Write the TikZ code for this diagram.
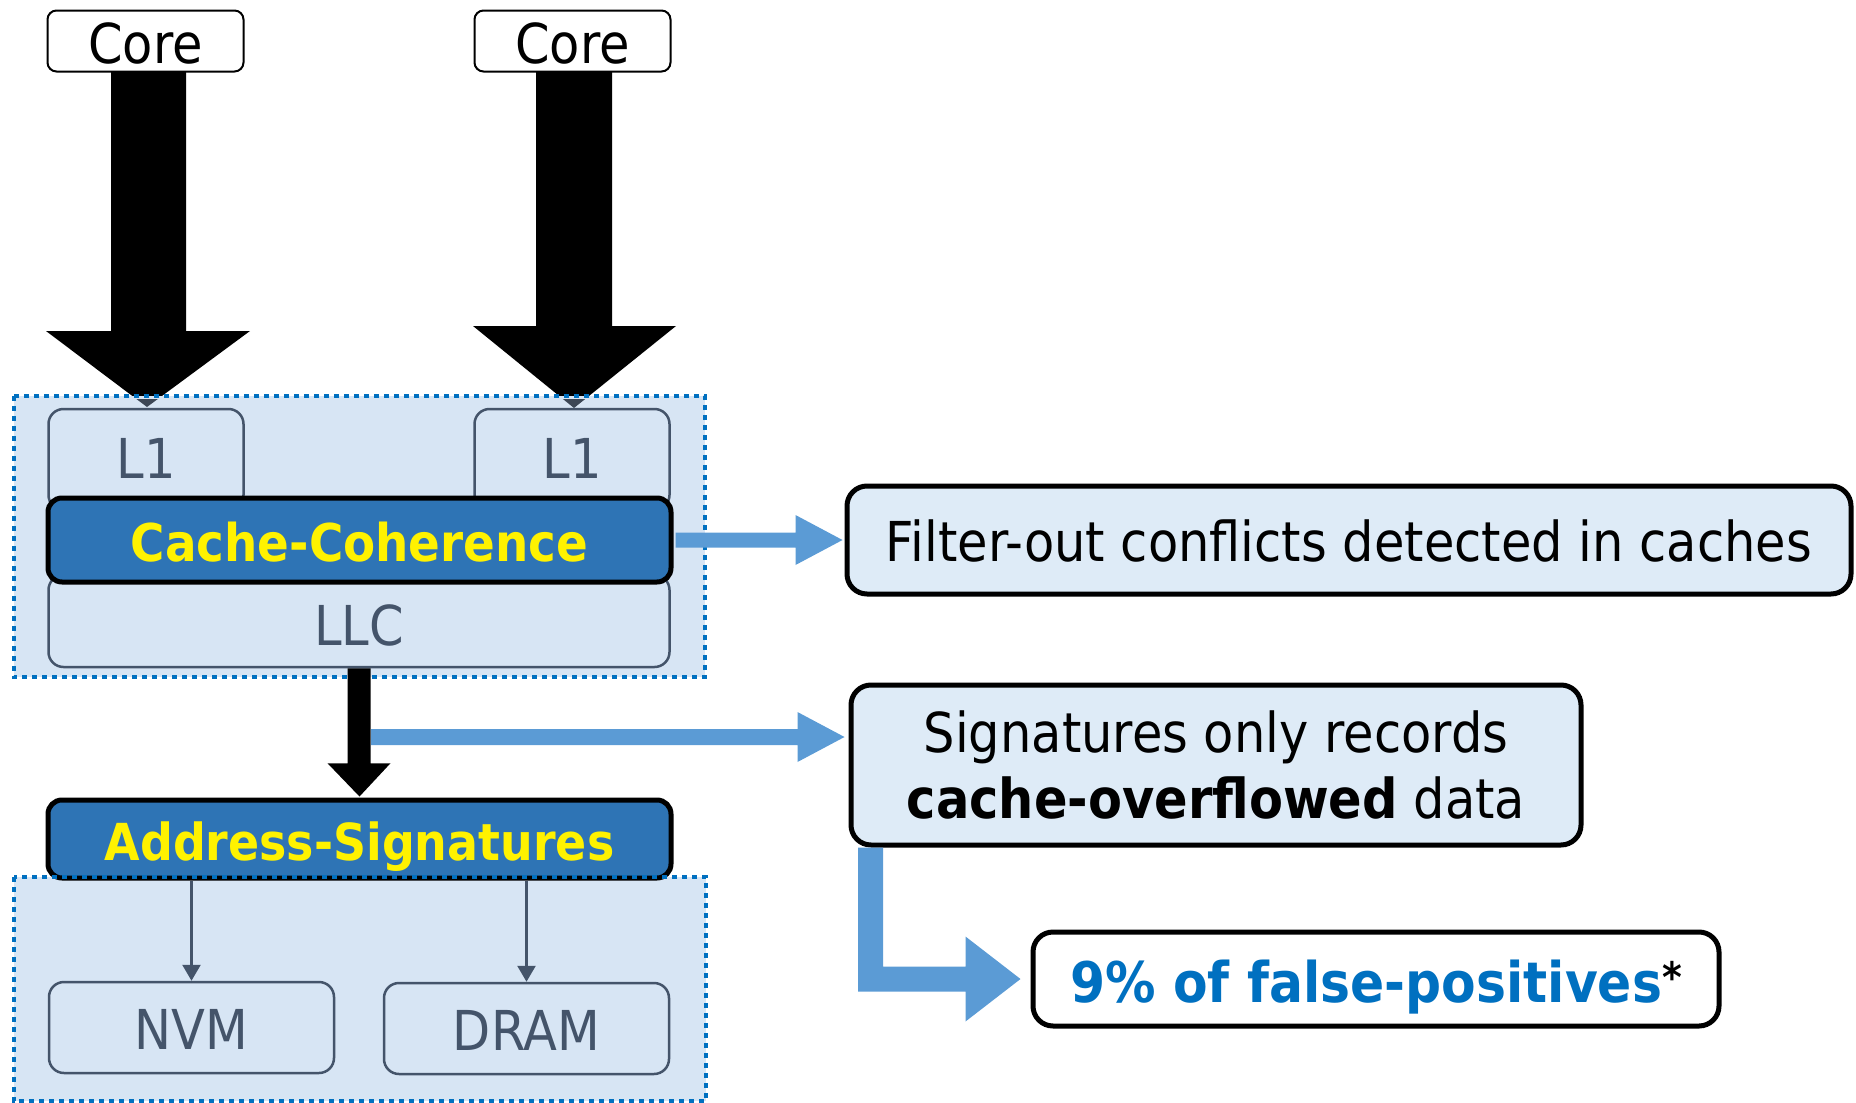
\documentclass[tikz,border=0pt]{standalone}
\usepackage{fontspec}
\setmainfont{DejaVu Sans}[FakeStretch=0.9]
\usetikzlibrary{arrows.meta,calc}
\definecolor{cfill}{HTML}{D7E5F4}
\definecolor{rfill}{HTML}{DEEBF7}
\definecolor{dotblue}{HTML}{0070C0}
\definecolor{ccblue}{HTML}{2E74B5}
\definecolor{slate}{HTML}{44546A}
\definecolor{lblue}{HTML}{5B9BD5}
\definecolor{tipgray}{HTML}{3C4756}
\newcommand{\fsz}[2]{\fontsize{#1}{#2}\selectfont}
\newcommand{\arrowone}{(111,72) -- (186,72) -- (186,331) -- (250,331) -- (147,407) -- (46,331) -- (111,331) -- cycle}
\newcommand{\arrowtwo}{(536,72) -- (612,72) -- (612,326) -- (676,326) -- (574,408) -- (473,326) -- (536,326) -- cycle}
\tikzset{
  corebox/.style={draw=black, line width=2pt, rounded corners=9pt, fill=white, inner sep=0pt, font=\fsz{55}{66}},
  memb/.style={draw=slate, line width=2.5pt, rounded corners=15pt, fill=cfill, text=slate, inner sep=0pt, font=\fsz{55}{66}},
  hilite/.style={draw=black, line width=5pt, rounded corners=14pt, fill=ccblue, text=yellow, inner sep=0pt, font=\fsz{52}{62}\bfseries},
  notebox/.style={draw=black, line width=5pt, rounded corners=20pt, fill=rfill, inner sep=0pt, font=\fsz{55}{66}},
  grp/.style={fill=cfill, inner sep=0pt},
  grpline/.style={draw=dotblue, line width=4.5pt, dash pattern=on 5pt off 5pt},
  blarrow/.style={fill=lblue},
  thinarrow/.style={draw=slate, line width=2.5pt, -{Triangle[width=18pt,length=16pt]}}
}
\begin{document}
\begin{tikzpicture}[x=1pt,y=-1pt]
\useasboundingbox (0,0) rectangle (1856,1103);

% cores
\node[corebox, minimum width=196pt, minimum height=61pt, text height=44pt, text depth=0pt] (core1) at (145.5,41) {Core};
\node[corebox, minimum width=196pt, minimum height=61pt, text height=44pt, text depth=0pt] (core2) at (572.5,41) {Core};

% big black arrows
\fill[black] \arrowone;
\fill[black] \arrowtwo;

% upper group
\node[grp, minimum width=691pt, minimum height=281pt] (cont1) at (359.5,536.5) {};
\draw[grpline] (cont1.north west) rectangle (cont1.south east);
\begin{scope}
  \clip (0,399) rectangle (1856,420);
  \fill[tipgray] \arrowone;
  \fill[tipgray] \arrowtwo;
\end{scope}

\node[memb, minimum width=195pt, minimum height=101pt, text height=37pt, text depth=0pt] (l1a) at (146,459.5) {L1};
\node[memb, minimum width=195pt, minimum height=101pt, text height=37pt, text depth=0pt] (l1b) at (572,459.5) {L1};
\node[memb, minimum width=621pt, minimum height=92pt, text height=48pt, text depth=0pt] (llc) at (359,621) {LLC};
\node[hilite, minimum width=623pt, minimum height=84pt, text height=42pt, text depth=0pt] (cc) at (359.5,540) {Cache-Coherence};

% lower group
\node[grp, minimum width=692pt, minimum height=224pt] (cont2) at (360,989) {};
\node[hilite, minimum width=623pt, minimum height=78pt, text height=42pt, text depth=0pt, font=\fsz{51}{61}\bfseries] (as) at (359.5,839) {Address-Signatures};
\draw[grpline] (cont2.north west) rectangle (cont2.south east);
\node[memb, minimum width=285pt, minimum height=91pt, text height=43pt, text depth=0pt] (nvm) at (191.5,1027.5) {NVM};
\node[memb, minimum width=285pt, minimum height=91pt, text height=43pt, text depth=0pt] (dram) at (526.5,1028.5) {DRAM};
\draw[thinarrow] (as.south -| nvm.north) -- (nvm.north);
\draw[thinarrow] (as.south -| dram.north) -- (dram.north);

% LLC -> Address-Signatures
\fill[black] ($(llc.south)+(-11.5,0)$) -- ($(llc.south)+(11.5,0)$) -- ($(llc.south)+(11.5,95)$) -- ($(llc.south)+(31.5,95)$) -- ($(as.north)+(0,-1)$) -- ($(llc.south)+(-31.5,95)$) -- ($(llc.south)+(-11.5,95)$) -- cycle;

% right notes
\node[notebox, minimum width=1004pt, minimum height=108pt, text height=42pt, text depth=0pt] (filt) at (1349,540) {Filter-out conflicts detected in caches};
\node[notebox, minimum width=730pt, minimum height=160pt, align=center] (sig) at (1216,765) {Signatures only records\\\textbf{cache-overflowed} data};
\node[notebox, fill=white, minimum width=686pt, minimum height=94pt, text height=46pt, text depth=0pt, font=\fsz{56}{66}\bfseries] (fp) at (1376,979) {{\color{dotblue}9\% of false-positives}\raisebox{10pt}{\fsz{42}{50}*}};

% light blue block arrows
\fill[blarrow] ($(cc.east)+(2,-7.5)$) -- ($(filt.west)+(-49,-7.5)$) -- ($(filt.west)+(-49,-25)$) -- ($(filt.west)+(-2,0)$) -- ($(filt.west)+(-49,25)$) -- ($(filt.west)+(-49,7.5)$) -- ($(cc.east)+(2,7.5)$) -- cycle;
\coordinate (a2s) at (371,737);
\fill[blarrow] ($(a2s)+(0,-8)$) -- ($(a2s -| sig.west)+(-51,-8)$) -- ($(a2s -| sig.west)+(-51,-25)$) -- ($(a2s -| sig.west)+(-4,0)$) -- ($(a2s -| sig.west)+(-51,25)$) -- ($(a2s -| sig.west)+(-51,8)$) -- ($(a2s)+(0,8)$) -- cycle;
\coordinate (a3s) at (870.5,0);
\fill[blarrow] ($(a3s |- sig.south)+(-12.5,0)$) -- ($(a3s |- sig.south)+(12.5,0)$) -- ($(a3s |- fp.west)+(12.5,-12.5)$) -- ($(fp.west)+(-65,-12.5)$) -- ($(fp.west)+(-65,-42.5)$) -- ($(fp.west)+(-10,0)$) -- ($(fp.west)+(-65,42.5)$) -- ($(fp.west)+(-65,12.5)$) -- ($(a3s |- fp.west)+(-12.5,12.5)$) -- cycle;
\end{tikzpicture}
\end{document}
